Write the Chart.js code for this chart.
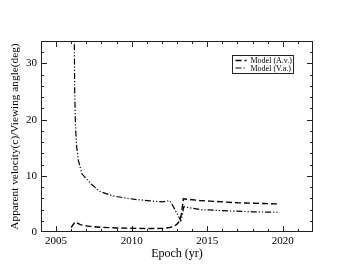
<!DOCTYPE html>
<html lang="en">
<head>
    <meta charset="UTF-8">
    <title>Apparent velocity / viewing angle</title>
    <script src="https://cdn.jsdelivr.net/npm/chart.js"></script>
    <style>
        body { margin: 0; background: white; }
        .wrap { width: 353px; height: 273px; }
    </style>
</head>
<body>
<div class="wrap"><canvas id="chart" width="353" height="273"></canvas></div>

<script>
    const avYears = [2006.0, 2006.25, 2006.6, 2007.2, 2007.9, 2009.0, 2010.3, 2011.5, 2012.1, 2012.5, 2012.8, 2013.0, 2013.2, 2013.3, 2013.38, 2013.42, 2014.5, 2015.2, 2017.0, 2019.8];
    const avValues = [0.8, 1.8, 1.3, 1.0, 0.85, 0.72, 0.65, 0.62, 0.65, 0.8, 1.0, 1.4, 2.1, 3.3, 5.0, 5.9, 5.6, 5.5, 5.2, 5.0];

    const vaYears = [2006.2, 2006.23, 2006.28, 2006.35, 2006.47, 2006.7, 2007.25, 2007.9, 2008.8, 2009.7, 2010.4, 2011.2, 2012.0, 2012.3, 2012.5, 2012.7, 2013.0, 2013.25, 2013.35, 2013.45, 2014.5, 2016.0, 2018.0, 2019.8];
    const vaValues = [36, 25, 19, 15.5, 12.8, 10.4, 8.7, 7.2, 6.4, 6.0, 5.75, 5.55, 5.35, 5.5, 5.6, 4.8, 3.3, 2.0, 3.0, 4.5, 4.0, 3.8, 3.6, 3.5];

    const seriesNames = ['Model (A.v.)', 'Model (V.a.)'];
    const xMajor = [2005, 2010, 2015, 2020];
    const yMajor = [0, 10, 20, 30];

    const serif = "'Liberation Serif', 'DejaVu Serif', serif";

    function toPoints(xs, ys) {
        return xs.map((x, i) => ({ x: x, y: ys[i] }));
    }

    // grace-style frame, inward ticks and boxed legend
    const frame = {
        id: 'frame',
        afterDraw(chart) {
            const ctx = chart.ctx;
            const a = chart.chartArea;
            const xs = chart.scales.x, ys = chart.scales.y;
            ctx.save();
            ctx.strokeStyle = '#222';
            ctx.lineWidth = 1;
            ctx.strokeRect(a.left + 0.5, a.top + 0.5, a.right - a.left - 1, a.bottom - a.top - 1);
            ctx.beginPath();
            for (let v = 2005; v <= 2021; v++) {
                const p = Math.round(xs.getPixelForValue(v)) + 0.5;
                const len = v % 5 === 0 ? 6 : 3;
                ctx.moveTo(p, a.bottom); ctx.lineTo(p, a.bottom - len);
                ctx.moveTo(p, a.top); ctx.lineTo(p, a.top + len);
            }
            for (let v = 2; v <= 32; v += 2) {
                const p = Math.round(ys.getPixelForValue(v)) + 0.5;
                const len = v % 10 === 0 ? 6 : 3;
                ctx.moveTo(a.left, p); ctx.lineTo(a.left + len, p);
                ctx.moveTo(a.right, p); ctx.lineTo(a.right - len, p);
            }
            ctx.stroke();

            // legend box
            const bx = 232.5, by = 55.5, bw = 61, bh = 18;
            ctx.strokeStyle = '#222';
            ctx.strokeRect(bx, by, bw, bh);
            ctx.font = '8px ' + serif;
            ctx.fillStyle = '#000';
            ctx.textBaseline = 'middle';
            chart.data.datasets.forEach((ds, i) => {
                const y = by + 5 + i * 7.5;
                ctx.beginPath();
                ctx.setLineDash(ds.borderDash);
                ctx.lineWidth = ds.borderWidth;
                ctx.strokeStyle = ds.borderColor;
                ctx.moveTo(bx + 3, y); ctx.lineTo(bx + 14, y);
                ctx.stroke();
                ctx.setLineDash([]);
                ctx.fillText(ds.label, bx + 18, y + 0.5);
            });
            ctx.restore();
        }
    };

    new Chart(document.getElementById('chart'), {
        type: 'line',
        data: {
            datasets: [
                {
                    label: seriesNames[0],
                    data: toPoints(avYears, avValues),
                    borderColor: '#000',
                    borderWidth: 1.4,
                    borderDash: [6, 3],
                    pointRadius: 0,
                    tension: 0,
                    fill: false
                },
                {
                    label: seriesNames[1],
                    data: toPoints(vaYears, vaValues),
                    borderColor: '#000',
                    borderWidth: 1.2,
                    borderDash: [6, 2, 1.2, 2, 1.2, 2],
                    pointRadius: 0,
                    tension: 0,
                    fill: false
                }
            ]
        },
        options: {
            responsive: false,
            animation: false,
            layout: { padding: { top: 41, right: 40, bottom: 0, left: 0 } },
            plugins: {
                legend: { display: false },
                tooltip: { enabled: false }
            },
            scales: {
                x: {
                    type: 'linear',
                    min: 2004,
                    max: 2022,
                    afterFit: s => { s.height = 41; },
                    afterBuildTicks: s => { s.ticks = xMajor.map(v => ({ value: v })); },
                    grid: { display: false, drawTicks: false },
                    border: { display: false },
                    ticks: { color: '#000', padding: 3, font: { family: serif, size: 11 }, maxRotation: 0, callback: v => String(v) },
                    title: { display: true, text: 'Epoch (yr)', color: '#000', font: { family: serif, size: 12 }, padding: { top: 0, bottom: 12 } }
                },
                y: {
                    type: 'linear',
                    min: 0,
                    max: 34,
                    afterFit: s => { s.width = 41; },
                    afterBuildTicks: s => { s.ticks = yMajor.map(v => ({ value: v })); },
                    grid: { display: false, drawTicks: false },
                    border: { display: false },
                    ticks: { color: '#000', padding: 4, font: { family: serif, size: 11 } },
                    title: { display: true, text: 'Apparent velocity(c)/Viewing angle(deg)', color: '#000', font: { family: serif, size: 11.3 }, padding: { top: 8, bottom: 0 } }
                }
            }
        },
        plugins: [frame]
    });
</script>
</body>
</html>
